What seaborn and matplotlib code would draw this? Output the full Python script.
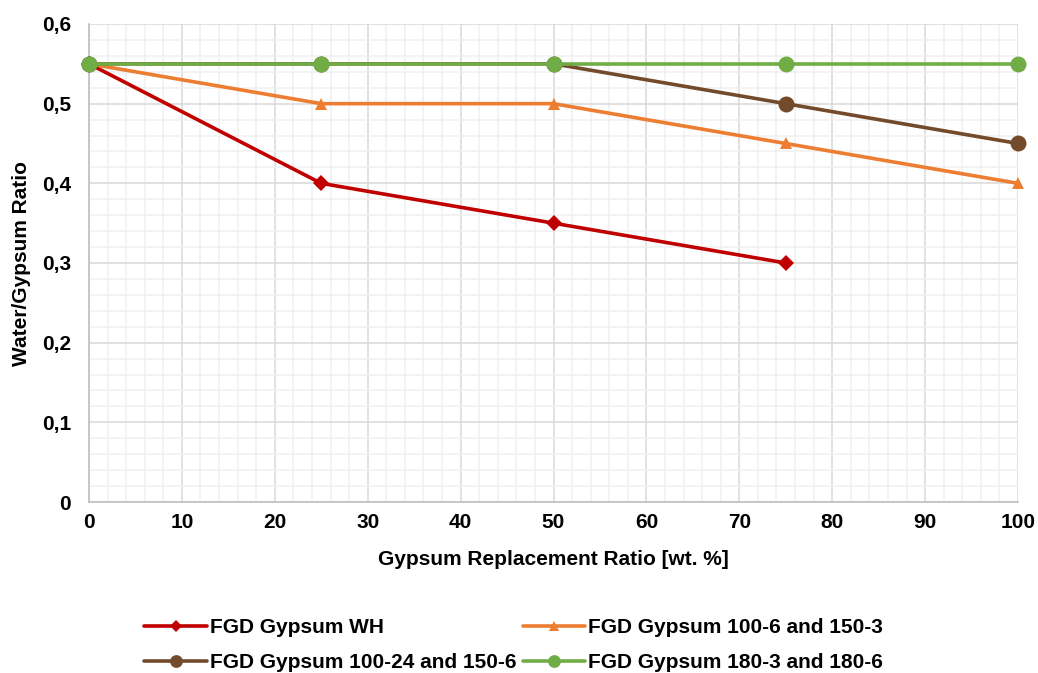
import matplotlib
matplotlib.use("Agg")
import matplotlib.pyplot as plt
import seaborn as sns
import pandas as pd
from matplotlib.ticker import MultipleLocator, FuncFormatter

replacement = [0, 25, 50, 75, 100]
wh = [0.55, 0.40, 0.35, 0.30, None]
g100_6 = [0.55, 0.50, 0.50, 0.45, 0.40]
g100_24 = [0.55, 0.55, 0.55, 0.50, 0.45]
g180 = [0.55, 0.55, 0.55, 0.55, 0.55]

names = ["FGD Gypsum WH", "FGD Gypsum 100-6 and 150-3",
         "FGD Gypsum 100-24 and 150-6", "FGD Gypsum 180-3 and 180-6"]
series = [wh, g100_6, g100_24, g180]
colors = ["#C00000", "#ED7D31", "#734A2A", "#70AD47"]
markers = ["D", "^", "o", "o"]
msizes = [8, 9, 11.5, 11.5]

sns.set_theme(style="white")
plt.rcParams["font.family"] = ["Liberation Sans", "DejaVu Sans"]
plt.rcParams["font.weight"] = "bold"
plt.rcParams["text.color"] = "black"
plt.rcParams["xtick.color"] = "black"
plt.rcParams["ytick.color"] = "black"
plt.rcParams["axes.labelcolor"] = "black"

FS = 15

fig = plt.figure(figsize=(10.38, 6.73), dpi=100)
ax = fig.add_axes([89/1038, 1-502/673, (1018-89)/1038, (502-24)/673])

for name, vals, c, m, ms in zip(names, series, colors, markers, msizes):
    df = pd.DataFrame({"x": replacement, "y": vals}).dropna()
    sns.lineplot(data=df, x="x", y="y", ax=ax, color=c, marker=m,
                 markersize=ms, markeredgewidth=0, linewidth=2.6,
                 label=name, clip_on=False, zorder=3)

ax.set_xlim(0, 100)
ax.set_ylim(0, 0.6)
ax.xaxis.set_major_locator(MultipleLocator(10))
ax.xaxis.set_minor_locator(MultipleLocator(2))
ax.yaxis.set_major_locator(MultipleLocator(0.1))
ax.yaxis.set_minor_locator(MultipleLocator(0.02))
ax.yaxis.set_major_formatter(FuncFormatter(lambda v, p: "0" if abs(v) < 1e-9 else f"{v:.1f}".replace(".", ",")))
ax.grid(which="major", color="#D9D9D9", linewidth=1.1, zorder=0)
ax.grid(which="minor", color="#F0F0F0", linewidth=1.1, zorder=0)
ax.set_axisbelow(True)
for s in ["top", "right"]:
    ax.spines[s].set_visible(False)
for s in ["left", "bottom"]:
    ax.spines[s].set_color("#BFBFBF")
    ax.spines[s].set_linewidth(1.2)
ax.tick_params(axis="both", which="both", length=0, labelsize=FS)
ax.tick_params(axis="y", pad=13)
ax.tick_params(axis="x", pad=8)
for lab in ax.get_xticklabels() + ax.get_yticklabels():
    lab.set_fontweight("bold")
ax.set_xlabel("Gypsum Replacement Ratio [wt. %]", fontsize=FS, fontweight="bold", labelpad=13)
ax.set_ylabel("Water/Gypsum Ratio", fontsize=FS, fontweight="bold", labelpad=8)

handles, labels = ax.get_legend_handles_labels()
ax.get_legend().remove()
order = [0, 2, 1, 3]
fig.legend([handles[i] for i in order], [labels[i] for i in order],
           loc="center", bbox_to_anchor=(0.495, 0.0416), ncol=2, frameon=False,
           prop={"size": FS, "weight": "bold"}, handlelength=3.0,
           columnspacing=0.3, handletextpad=0.15, labelspacing=0.75,
           markerscale=0.8, borderpad=0)

fig.savefig("out.png", dpi=100)
